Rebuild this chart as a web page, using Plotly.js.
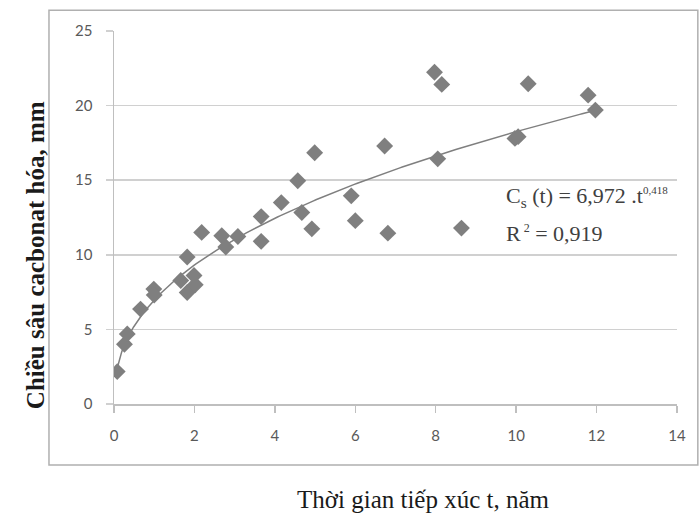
<!DOCTYPE html>
<html>
<head>
<meta charset="utf-8">
<script src="https://cdn.plot.ly/plotly-3.0.1.min.js"></script>
<style>html,body{margin:0;padding:0;background:#fff}#chart{width:699px;height:518px}</style>
</head>
<body>
<div id="chart"></div>
<script>
// Measured points: exposure time t (years) and carbonation depth (mm)
var timeYears = [0.08,0.26,0.33,0.66,0.99,1.0,1.66,1.82,1.82,1.99,2.02,2.18,2.68,2.78,3.08,3.66,3.66,4.16,4.57,4.67,4.92,4.99,5.9,6.0,6.73,6.81,7.97,8.05,8.15,8.64,9.97,10.05,10.3,11.79,11.97];
var depthMm   = [2.17,4.0,4.7,6.36,7.7,7.3,8.28,9.85,7.47,8.61,7.99,11.5,11.28,10.52,11.23,12.56,10.9,13.5,14.96,12.84,11.74,16.84,13.95,12.29,17.29,11.45,22.24,16.43,21.42,11.79,17.8,17.92,21.46,20.7,19.7];
// Power trendline shown on the chart: Cs(t) = a * t^b
var fitCoef = [6.972, 0.418];
var fitRange = [0.07, 12];
var xTicks = [0,2,4,6,8,10,12,14];
var yTicks = [0,5,10,15,20,25];

var fitX = [], fitY = [];
for (var i = 0; i <= 200; i++) {
  var t = fitRange[0] + (fitRange[1] - fitRange[0]) * i / 200;
  fitX.push(t);
  fitY.push(fitCoef[0] * Math.pow(t, fitCoef[1]));
}

var traces = [
  {x: fitX, y: fitY, mode: 'lines', type: 'scatter',
   line: {color: '#7f7f7f', width: 1.5}, hoverinfo: 'skip'},
  {x: timeYears, y: depthMm, mode: 'markers', type: 'scatter',
   marker: {symbol: 'diamond', size: 13, color: '#7f7f7f'}}
];

var serif = '"Liberation Serif", "Times New Roman", serif';
var tickFont = {family: 'Lato, "Open Sans", sans-serif', size: 15, color: '#595959'};
var layout = {
  width: 699, height: 518,
  margin: {l: 114, r: 22, t: 31, b: 114},
  paper_bgcolor: '#ffffff', plot_bgcolor: '#ffffff',
  showlegend: false,
  xaxis: {
    range: [0, 14], tickvals: xTicks, ticktext: xTicks.map(String),
    showgrid: false, zeroline: false,
    showline: true, linecolor: '#bfbfbf', linewidth: 1.5,
    ticks: 'outside', ticklen: 7, tickcolor: '#bfbfbf', tickwidth: 1.5,
    tickfont: tickFont, ticklabelstandoff: 10, fixedrange: true
  },
  yaxis: {
    range: [0, 25], tickvals: yTicks, ticktext: yTicks.map(String),
    showgrid: true, gridcolor: '#d0d0d0', gridwidth: 1.5, zeroline: false,
    showline: true, linecolor: '#bfbfbf', linewidth: 1.5,
    ticks: 'outside', ticklen: 7, tickcolor: '#d0d0d0', tickwidth: 1.5,
    tickfont: tickFont, ticklabelstandoff: 10, fixedrange: true
  },
  shapes: [{
    type: 'rect', xref: 'paper', yref: 'paper',
    x0: -0.1155, x1: 1.037, y0: -0.1634, y1: 1.0554,
    line: {color: '#b0b0b0', width: 1.5}, fillcolor: 'rgba(0,0,0,0)', layer: 'below'
  }],
  annotations: [
    {xref: 'paper', yref: 'paper', x: -0.1404, y: 0.399, textangle: -90,
     text: '<b>Chiều sâu cacbonat hóa, mm</b>', showarrow: false,
     xanchor: 'center', yanchor: 'middle',
     font: {family: serif, size: 25, color: '#1a1a1a'}},
    {xref: 'paper', yref: 'paper', x: 0.549, y: -0.257,
     text: 'Thời gian tiếp xúc t, năm', showarrow: false,
     xanchor: 'center', yanchor: 'middle',
     font: {family: serif, size: 25, color: '#1a1a1a'}},
    {xref: 'x', yref: 'y', x: 9.7, y: 13.85,
     text: 'C<sub>s</sub> (t) = 6,972 .t<sup><span style="font-size:11px">0,418</span></sup>', showarrow: false,
     xanchor: 'left', yanchor: 'middle',
     font: {family: serif, size: 22, color: '#404040'}},
    {xref: 'x', yref: 'y', x: 9.7, y: 11.45,
     text: 'R<sup><span style="font-size:12px"> 2</span></sup> = 0,919', showarrow: false,
     xanchor: 'left', yanchor: 'middle',
     font: {family: serif, size: 22, color: '#404040'}}
  ]
};

Plotly.newPlot('chart', traces, layout, {staticPlot: true, displayModeBar: false});
</script>
</body>
</html>
